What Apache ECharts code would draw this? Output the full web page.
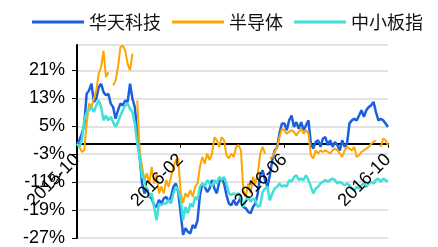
<!DOCTYPE html>
<html>
<head>
<meta charset="utf-8">
<script src="https://cdn.jsdelivr.net/npm/echarts@6/dist/echarts.min.js"></script>
<style>
  html, body { margin: 0; padding: 0; background: #fff; }
  #main { width: 438px; height: 247px; }
</style>
</head>
<body>
<div id="main"></div>
<script>
// series names
var seriesNames = ['华天科技', '半导体', '中小板指'];

// cumulative return, %
var huatian = [
  0, 1.0, 2.9, 5.3, 14.3, 15.3, 17.2, 12.0, 12.9, 16.2,
  17.2, 14.8, 13.9, 14.3, 11.5, 10.5, 7.2, 9.6, 11.5, 11.0,
  12.4, 12.0, 17.2, 12.9, 10.5, 2.9, -3.8, -11.4, -14.2, -12.8,
  -15.2, -15.7, -17.6, -18.1, -16.1, -17.1, -15.7, -15.2, -16.6, -15.2,
  -12.3, -11.4, -13.8, -19.9, -26.1, -24.2, -25.2, -25.7, -23.3, -24.2,
  -21.9, -14.7, -11.4, -12.3, -13.8, -12.8, -10.4, -12.8, -14.2, -10.9,
  -9.9, -11.4, -14.7, -17.1, -17.6,
  -16.1, -17.6, -16.6, -15.2, -18.1, -18.5, -19.5, -19.9, -18.1, -17.1,
  -14.2, -9.0, -7.6, -10.4, -12.3, -9.0, -4.7, -1.9, -1.0, 3.0,
  5.8, 5.8, 3.9, 6.7, 8.1, 4.8, 6.2, 4.3, 6.2, 3.9,
  5.3, 6.7, 0.0, -1.4, 0.5, 1.0, -0.9, 1.5, 1.9, -0.4,
  1.0, -0.9, 0.5, -0.4, -1.9, 1.0, -0.9, 0.0, 5.8, 6.7,
  7.2, 6.7, 8.1, 9.6, 7.7, 9.6, 10.5, 11.0, 12.0, 9.1,
  6.7, 7.2, 6.7, 5.8, 4.8
];

var bandaoti = [
  0, -0.9, -2.3, -1.9, 5.8, 11.5, 10.5, 12.9, 15.3, 20.0,
  22.0, 26.7, 19.1, 20.5, null, 16.7, 18.1, 22.0, 27.7, 28.1,
  26.7, 22.9, 21.0, 25.8, null, 12.4, -1.9, -6.6, -10.4, -8.5,
  -11.4, -6.6, -11.4, -8.5, -14.2, -12.3, -14.2, -10.4, -12.3, -9.5,
  -6.6, -4.7, -4.2, -14.0, -17.0, -14.2, -15.2, -13.3, -15.2, -12.3,
  -11.4, -6.6, -3.8, -5.7, -2.8, -4.7, -2.8, 1.9, 1.0, -0.9,
  1.9, 1.0, -3.3, -4.2, -2.8,
  -3.8, -0.9, -0.4, -1.9, -13.3, -15.2, -11.4, -14.2, -9.5, -11.4,
  -8.5, -2.8, -0.9, -2.8, null, -4.2, -3.8, -2.3, -0.9, 2.0,
  4.3, 3.9, 2.9, 3.4, 3.9, 3.4, 2.4, 3.4, 4.3, 2.9,
  3.9, 2.9, -3.3, -4.2, -1.9, -2.8, -1.9, -2.3, -1.9, -2.3,
  -2.8, -1.9, -1.4, -1.9, -2.8, -3.8, -1.9, -0.9, -1.4, -1.9,
  -0.9, -3.8, -3.3, -2.3, -1.9, -1.4, -0.9, 0.0, 0.5, 1.0,
  null, -0.9, 1.5, 1.0, -0.4
];

var zhongxiao = [
  0, -0.9, 1.0, 6.7, 9.1, 9.6, 10.5, 9.1, 11.0, 12.4,
  10.5, 6.7, 8.1, 6.7, 7.7, 6.2, 4.8, 6.2, 8.1, 9.6,
  11.0, 11.5, 10.0, 9.1, 5.8, 0.0, -3.8, -9.5, -10.4, -13.3,
  -15.2, -14.2, -18.1, -21.9, -17.1, -17.6, -17.1, -17.1, -16.1, -17.1,
  -14.2, -12.3, -13.3, -16.1, -21.9, -18.1, -19.9, -17.1, -18.1, -15.2,
  -16.1, -12.3, -11.4, -12.3, -10.4, -11.4, -12.3, -10.4, -11.4, -9.5,
  -10.4, -9.5, -11.4, -14.2, -14.7,
  -14.2, -14.7, -14.2, -15.7, -18.1, -16.2, -15.2, -16.6, -15.7, -16.2,
  -18.1, -17.6, -13.8, -12.8, -12.3, -16.2, -14.2, -12.8, -12.3, -11.4,
  -12.3, -11.9, -12.3, -10.4, -10.9, -9.5, -9.0, -10.4, -10.0, -10.4,
  -9.0, -10.4, -12.3, -14.2, -12.8, -12.3, -11.4, -10.9, -10.4, -10.9,
  -10.4, -10.0, -10.4, -11.4, -10.9, -11.4, -11.9, -11.4, -11.9, -12.8,
  -13.3, -12.3, -12.8, -11.9, -11.4, -12.3, -11.4, -10.9, -11.4, -10.4,
  -10.0, -10.9, -10.0, -10.4, -10.9
];

// one date per point, 2015-10-08 .. 2016-10-07
var dates = [];
var start = new Date(2015, 9, 8);
for (var i = 0; i < huatian.length; i++) {
  var d = new Date(start.getTime());
  d.setDate(d.getDate() + Math.round(i * 365 / (huatian.length - 1)));
  var m = d.getMonth() + 1, day = d.getDate();
  dates.push(d.getFullYear() + '-' + (m < 10 ? '0' + m : m) + '-' + (day < 10 ? '0' + day : day));
}

var chart = echarts.init(document.getElementById('main'));
var option = {
  animation: false,
  color: ['#1a5fe0', '#ffa500', '#3fe0d8'],
  textStyle: { fontFamily: '"Liberation Sans", Arial, "Noto Sans CJK SC", sans-serif' },
  legend: {
    data: seriesNames,
    icon: 'rect',
    left: 27,
    top: 8,
    itemWidth: 52,
    itemHeight: 3,
    itemGap: 11,
    textStyle: { fontSize: 18, color: '#111', fontFamily: '"Noto Sans CJK SC", sans-serif' }
  },
  grid: { left: 77, right: 50, top: 45, bottom: 9, outerBoundsMode: 'none', containLabel: false },
  xAxis: [{
    type: 'category',
    data: dates,
    boundaryGap: false,
    axisLine: { onZero: true, lineStyle: { color: '#000', width: 2 } },
    axisTick: { interval: 42, length: 4, lineStyle: { color: '#000' } },
    axisLabel: { show: false },
    splitLine: { show: false }
  }, {
    // labels only, lifted up to the zero line
    type: 'category',
    data: dates,
    position: 'bottom',
    boundaryGap: false,
    offset: -94,
    z: 5,
    axisLine: { show: false, onZero: false },
    axisTick: { show: false },
    axisLabel: {
      interval: 42,
      rotate: 45,
      margin: 13,
      fontSize: 18,
      color: '#000',
      formatter: function (v) { return v.slice(0, 7); }
    },
    splitLine: { show: false }
  }],
  yAxis: {
    type: 'value',
    min: -27,
    max: 28.3,
    interval: 8,
    axisLine: { show: true, lineStyle: { color: '#000', width: 2 } },
    axisTick: { show: true, length: 5, lineStyle: { color: '#000' } },
    axisLabel: {
      fontSize: 18,
      margin: 12,
      color: '#000',
      showMaxLabel: false,
      formatter: '{value}%'
    },
    splitLine: { lineStyle: { color: '#e3e3e3', width: 2 } }
  },
  series: [
    { name: seriesNames[0], type: 'line', data: huatian, symbol: 'none', lineStyle: { width: 2.5 } },
    { name: seriesNames[1], type: 'line', data: bandaoti, symbol: 'none', lineStyle: { width: 2 } },
    { name: seriesNames[2], type: 'line', data: zhongxiao, symbol: 'none', lineStyle: { width: 2.5 } }
  ]
};
chart.setOption(option);
</script>
</body>
</html>
